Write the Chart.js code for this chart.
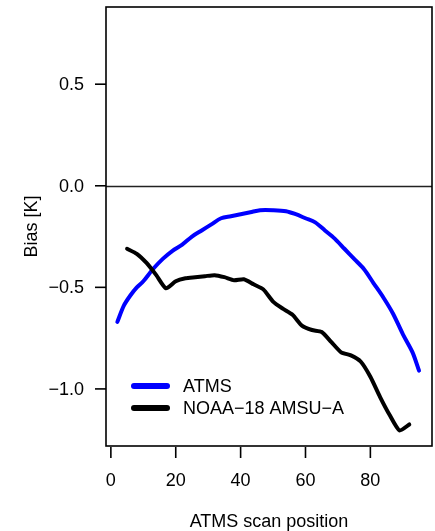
<!DOCTYPE html>
<html>
<head>
<meta charset="utf-8">
<script src="https://cdn.jsdelivr.net/npm/chart.js@4/dist/chart.umd.min.js"></script>
<style>html,body{margin:0;padding:0;background:#fff}</style>
</head>
<body>
<canvas id="c" width="435" height="531"></canvas>
<script>
// ATMS bias by scan position (blue)
const atmsPos  = [2, 4, 6, 8, 10, 13, 16, 19, 22, 25, 28, 31, 34, 37, 40, 43, 46, 50, 54, 57, 60, 63, 66, 69, 72, 75, 78, 81, 84, 87, 90, 93, 95];
const atmsBias = [-0.67, -0.59, -0.54, -0.50, -0.47, -0.41, -0.36, -0.32, -0.29, -0.25, -0.22, -0.19, -0.16, -0.15, -0.14, -0.13, -0.12, -0.12, -0.125, -0.14, -0.16, -0.18, -0.22, -0.26, -0.31, -0.36, -0.41, -0.48, -0.55, -0.63, -0.73, -0.82, -0.91];
// NOAA-18 AMSU-A bias, mapped onto ATMS scan positions (black)
const amsuPos  = [5, 8, 11, 14, 17, 20, 23, 26, 29, 32, 35, 38, 41, 44, 47, 50, 53, 56, 59, 62, 65, 68, 71, 74, 77, 80, 83, 86, 89, 92];
const amsuBias = [-0.31, -0.335, -0.38, -0.44, -0.505, -0.47, -0.455, -0.45, -0.445, -0.44, -0.45, -0.465, -0.46, -0.485, -0.51, -0.57, -0.605, -0.635, -0.69, -0.71, -0.72, -0.77, -0.82, -0.835, -0.865, -0.94, -1.04, -1.13, -1.205, -1.175];

const xTicks = [0, 20, 40, 60, 80];
const yTicks = [0.5, 0.0, -0.5, -1.0];
const yTickLabels = ['0.5', '0.0', '\u22120.5', '\u22121.0'];
const seriesNames = ['ATMS', 'NOAA\u221218 AMSU\u2212A'];
const seriesColors = ['#0000ff', '#000000'];

const FONT = '18px "Liberation Sans", Arial, Helvetica, sans-serif';

const axesPlugin = {
  id: 'rAxes',
  beforeDatasetsDraw(chart) {
    const {ctx, chartArea: a, scales: {y}} = chart;
    ctx.save();
    // horizontal line at zero
    ctx.strokeStyle = '#222';
    ctx.lineWidth = 1.3;
    const y0 = Math.round(y.getPixelForValue(0)) + 0.5;
    ctx.beginPath();
    ctx.moveTo(a.left, y0);
    ctx.lineTo(a.right, y0);
    ctx.stroke();
    ctx.restore();
  },
  afterDraw(chart) {
    const {ctx, chartArea: a, scales: {x, y}} = chart;
    ctx.save();
    ctx.strokeStyle = '#000';
    ctx.fillStyle = '#000';
    ctx.lineWidth = 1.6;
    // box
    ctx.strokeRect(a.left, a.top, a.right - a.left, a.bottom - a.top);

    // y axis ticks + labels
    ctx.font = FONT;
    ctx.textAlign = 'right';
    ctx.textBaseline = 'middle';
    yTicks.forEach((v, i) => {
      const py = y.getPixelForValue(v);
      ctx.beginPath();
      ctx.moveTo(a.left - 11, py);
      ctx.lineTo(a.left, py);
      ctx.stroke();
      ctx.fillText(yTickLabels[i], a.left - 22, py + 1);
    });

    // x axis ticks just below the box
    ctx.textAlign = 'center';
    xTicks.forEach(v => {
      const px = x.getPixelForValue(v);
      ctx.beginPath();
      ctx.moveTo(px, a.bottom + 1);
      ctx.lineTo(px, a.bottom + 12);
      ctx.stroke();
      ctx.fillText(String(v), px, 481);
    });

    // axis titles
    ctx.fillText('ATMS scan position', (a.left + a.right) / 2, 522);
    ctx.save();
    ctx.translate(32, (a.top + a.bottom) / 2);
    ctx.rotate(-Math.PI / 2);
    ctx.fillText('Bias [K]', 0, 0);
    ctx.restore();

    // legend inside plot
    ctx.textAlign = 'left';
    ctx.lineCap = 'round';
    ctx.lineWidth = 6;
    const legY = [386, 408];
    seriesNames.forEach((name, i) => {
      ctx.strokeStyle = seriesColors[i];
      ctx.beginPath();
      ctx.moveTo(134, legY[i]);
      ctx.lineTo(167, legY[i]);
      ctx.stroke();
      ctx.fillText(name, 183, legY[i] + 1);
    });
    ctx.restore();
  }
};

new Chart(document.getElementById('c'), {
  type: 'scatter',
  data: {
    datasets: [
      {
        label: seriesNames[0],
        data: atmsPos.map((p, i) => ({x: p, y: atmsBias[i]})),
        showLine: true, borderColor: seriesColors[0], borderWidth: 4,
        pointRadius: 0, tension: 0.3, borderCapStyle: 'round', borderJoinStyle: 'round',
        order: 2
      },
      {
        label: seriesNames[1],
        data: amsuPos.map((p, i) => ({x: p, y: amsuBias[i]})),
        showLine: true, borderColor: seriesColors[1], borderWidth: 4,
        pointRadius: 0, tension: 0.2, borderCapStyle: 'round', borderJoinStyle: 'round',
        order: 1
      }
    ]
  },
  options: {
    responsive: false,
    animation: false,
    devicePixelRatio: 1,
    layout: {padding: {left: 106, right: 3, top: 7, bottom: 85}},
    plugins: {legend: {display: false}, tooltip: {enabled: false}},
    scales: {
      x: {type: 'linear', min: -1.5, max: 99, display: false},
      y: {type: 'linear', min: -1.281, max: 0.88, display: false}
    }
  },
  plugins: [axesPlugin]
});
</script>
</body>
</html>
